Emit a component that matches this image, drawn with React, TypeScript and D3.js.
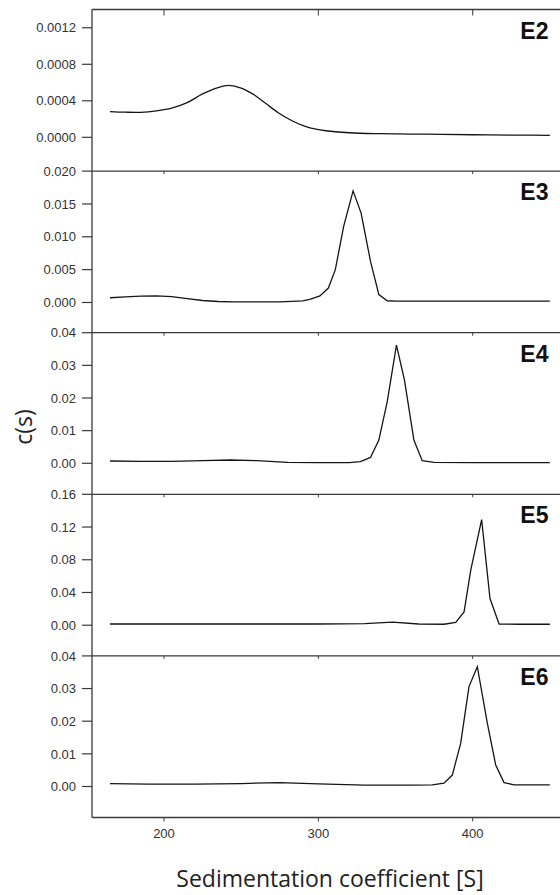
import React from 'react';
import * as d3 from 'd3';

// sedimentation coefficient ticks
const xTicks = [200, 300, 400];

const panelNames = ['E2', 'E3', 'E4', 'E5', 'E6'];

// visible y range of each panel (bottom, top)
const yDomains = [
  [-0.00037, 0.0014],
  [-0.0046, 0.02],
  [-0.0095, 0.04],
  [-0.0375, 0.16],
  [-0.0095, 0.04],
];

const yTicks = [
  [0, 0.0004, 0.0008, 0.0012],
  [0, 0.005, 0.01, 0.015, 0.02],
  [0, 0.01, 0.02, 0.03, 0.04],
  [0, 0.04, 0.08, 0.12, 0.16],
  [0, 0.01, 0.02, 0.03, 0.04],
];
const yFormats = ['.4f', '.3f', '.2f', '.2f', '.2f'];

const sE2 = [165, 175, 185, 195, 205, 215, 225, 235, 242, 250, 258, 266, 274, 282, 292, 305, 320, 340, 370, 400, 430, 450];
const cE2 = [0.000282, 0.000275, 0.000274, 0.00029, 0.00032, 0.00038, 0.000475, 0.000545, 0.000568, 0.00054, 0.00047, 0.00037, 0.00027, 0.00019, 0.000118, 0.000072, 0.00005, 0.00004, 0.000034, 0.000028, 0.000024, 0.000022];

const sE3 = [165, 175, 185, 195, 205, 215, 225, 235, 245, 260, 275, 290, 295, 301, 306.5, 311, 316.4, 322.5, 327.7, 333.8, 339.2, 344.6, 350, 370, 400, 430, 450];
const cE3 = [0.00072, 0.00085, 0.00097, 0.001, 0.00088, 0.0006, 0.0003, 0.00015, 0.0001, 0.0001, 0.0001, 0.00025, 0.0005, 0.001, 0.0022, 0.005, 0.0116, 0.017, 0.0136, 0.00625, 0.0012, 0.00026, 0.0002, 0.0002, 0.0002, 0.0002, 0.0002];

const sE4 = [165, 185, 205, 225, 243, 260, 280, 300, 320, 327.3, 333.8, 339.2, 344.6, 350.6, 355.8, 361.9, 367.3, 374.9, 400, 430, 450];
const cE4 = [0.0007, 0.0006, 0.0006, 0.0008, 0.001, 0.0008, 0.0003, 0.0002, 0.0002, 0.0005, 0.0018, 0.0071, 0.0188, 0.0362, 0.0255, 0.0071, 0.0008, 0.0003, 0.0002, 0.0002, 0.0002];

const sE5 = [165, 200, 250, 300, 330, 348, 365, 381.4, 389, 394.4, 398.8, 405.8, 411.2, 417.1, 430, 450];
const cE5 = [0.0015, 0.0015, 0.0015, 0.0015, 0.002, 0.0038, 0.0015, 0.0012, 0.0033, 0.0163, 0.068, 0.129, 0.0326, 0.0015, 0.0012, 0.0012];

const sE6 = [165, 190, 220, 250, 275, 300, 330, 360, 373.8, 381.4, 386.8, 392.2, 397.6, 403, 409.5, 414.9, 420.3, 426.8, 440, 450];
const cE6 = [0.0009, 0.0007, 0.0007, 0.0009, 0.0012, 0.0008, 0.0004, 0.0004, 0.0005, 0.001, 0.0035, 0.0132, 0.0306, 0.0367, 0.0193, 0.0066, 0.0012, 0.0005, 0.0005, 0.0005];

const sSeries = [sE2, sE3, sE4, sE5, sE6];
const cSeries = [cE2, cE3, cE4, cE5, cE6];

const W = 560;
const H = 895;
const left = 92;
const right = 560;
const top = 9.5;
const panelH = 161.6;

const frame = '#3a3a3a';
const tickFont = '"Liberation Sans", Arial, sans-serif';
const titleFont = '"Open Sans", "Noto Sans", sans-serif';

export default function App() {
  const x = d3.scaleLinear().domain([200, 400]).range([164, 472.7]);
  const bottom = top + panelH * panelNames.length;

  return (
    <svg width={W} height={H} style={{ position: 'absolute', left: 0, top: 0, background: '#fff' }}>
      {panelNames.map((name, i) => {
        const y0 = top + i * panelH;
        const y = d3.scaleLinear().domain(yDomains[i]).range([y0 + panelH, y0]);
        const fmt = d3.format(yFormats[i]);
        const pts = sSeries[i].map((s, k) => [s, cSeries[i][k]] as [number, number]);
        const line = d3
          .line<[number, number]>()
          .x(d => x(d[0]))
          .y(d => y(d[1]))
          .curve(i === 0 ? d3.curveCatmullRom.alpha(0.5) : d3.curveLinear);
        return (
          <g key={name}>
            <line x1={left} x2={right} y1={y0} y2={y0} stroke={frame} strokeWidth={1.3} />
            {xTicks.map(t => (
              <line key={t} x1={x(t)} x2={x(t)} y1={y0} y2={y0 + (i === 0 ? 6 : 3)} stroke={frame} strokeWidth={1} />
            ))}
            {yTicks[i].map(t => (
              <g key={t}>
                <line x1={left - 10} x2={left} y1={y(t)} y2={y(t)} stroke={frame} strokeWidth={1.2} />
                <text
                  x={left - 16}
                  y={y(t)}
                  dy="0.36em"
                  textAnchor="end"
                  fontFamily={tickFont}
                  fontSize={13}
                  fill="#333"
                >
                  {fmt(t)}
                </text>
              </g>
            ))}
            <path d={line(pts) || ''} fill="none" stroke="#151515" strokeWidth={1.3} />
            <text
              x={548.5}
              y={y0 + 29}
              textAnchor="end"
              fontFamily={tickFont}
              fontWeight="bold"
              fontSize={23}
              fill="#111"
            >
              {name}
            </text>
          </g>
        );
      })}

      <line x1={left} x2={left} y1={top} y2={bottom} stroke={frame} strokeWidth={1.3} />
      <line x1={left} x2={right} y1={bottom} y2={bottom} stroke={frame} strokeWidth={1.3} />
      {xTicks.map(t => (
        <g key={t}>
          <line x1={x(t)} x2={x(t)} y1={bottom} y2={bottom + 4} stroke={frame} strokeWidth={1} />
          <text x={x(t)} y={837.5} textAnchor="middle" fontFamily={tickFont} fontSize={13} fill="#333">
            {t}
          </text>
        </g>
      ))}

      <text x={330} y={886.5} textAnchor="middle" fontFamily={titleFont} fontSize={23} fill="#222">
        Sedimentation coefficient [S]
      </text>
      <text
        transform="translate(32,427) rotate(-90)"
        textAnchor="middle"
        fontFamily={titleFont}
        fontSize={23}
        fill="#222"
      >
        c(s)
      </text>
    </svg>
  );
}
